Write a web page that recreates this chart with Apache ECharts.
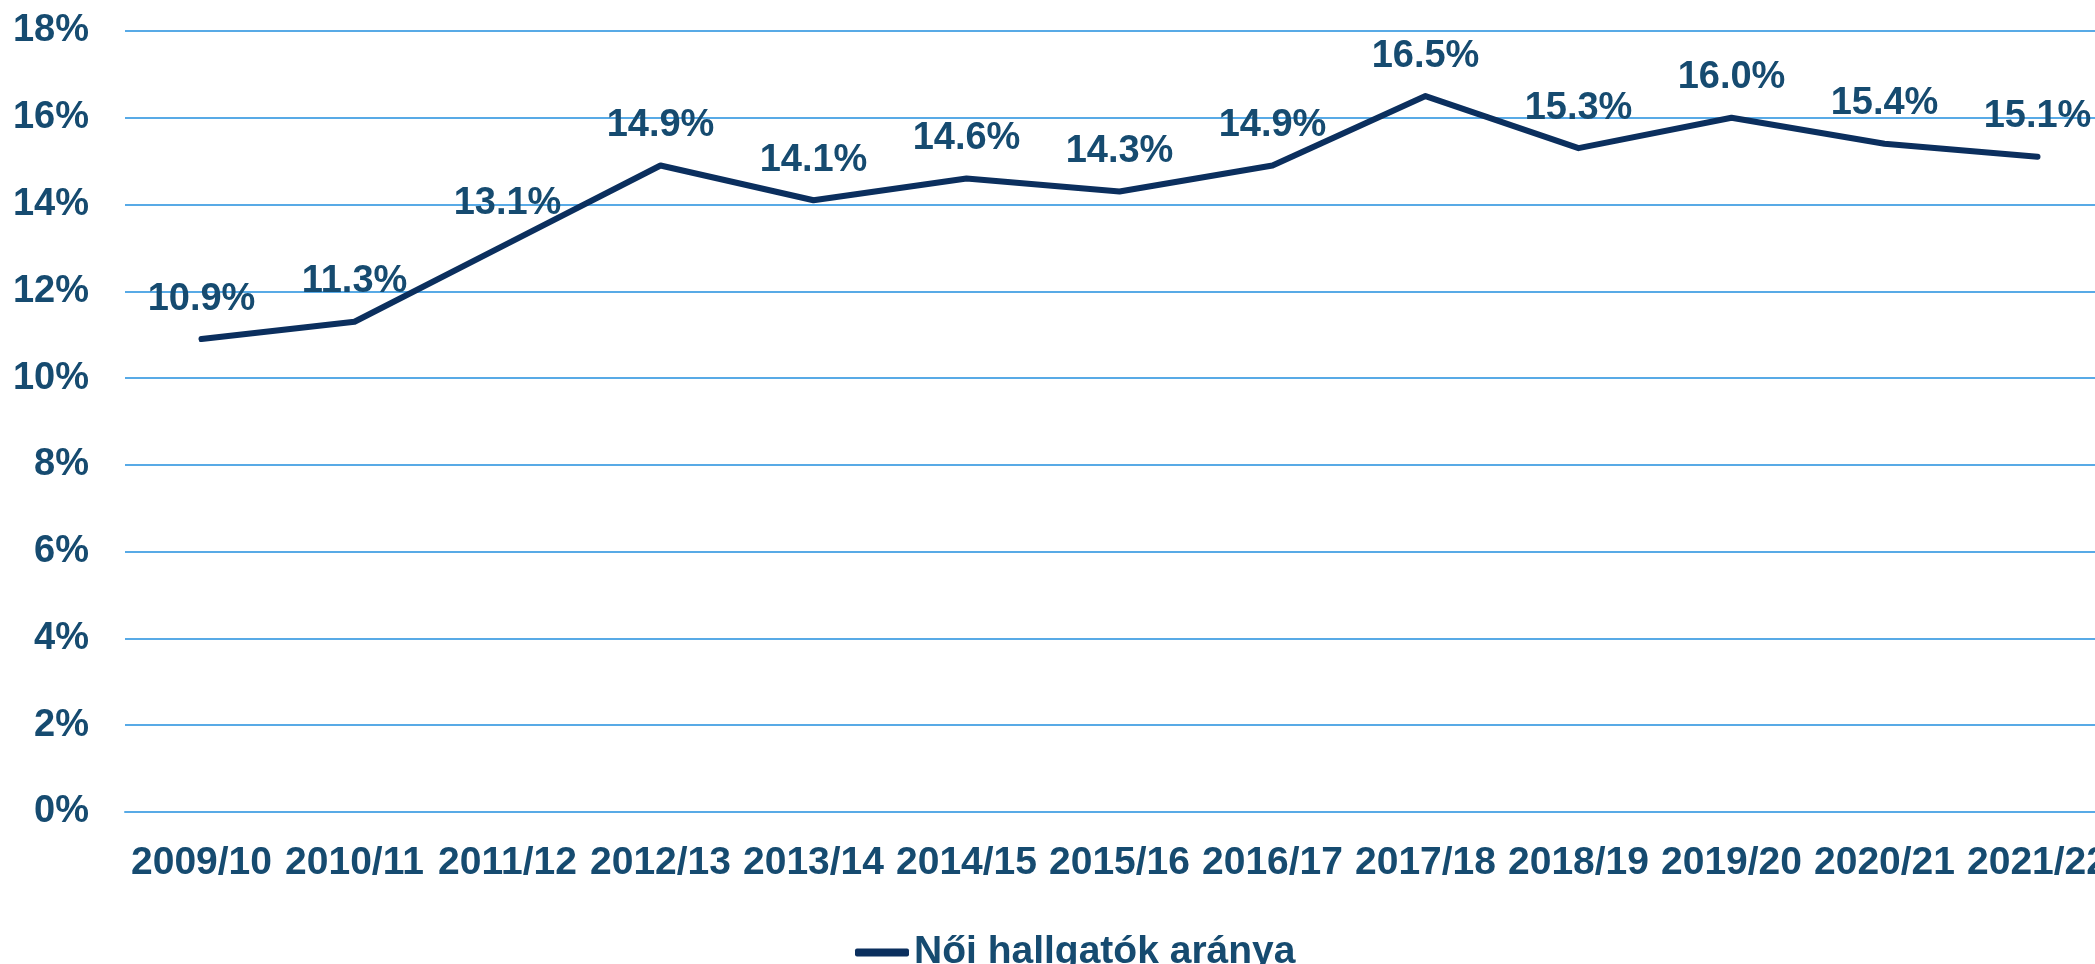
<!DOCTYPE html>
<html lang="hu">
<head>
    <meta charset="UTF-8">
    <title>Női hallgatók aránya</title>
    <script src="https://cdn.jsdelivr.net/npm/echarts@6.0.0/dist/echarts.min.js"></script>
    <style>
        html, body { margin: 0; padding: 0; background: #fff; }
        #main { width: 2095px; height: 964px; }
    </style>
</head>
<body>
    <div id="main"></div>
    <script>
        var years = ['2009/10', '2010/11', '2011/12', '2012/13', '2013/14', '2014/15', '2015/16',
                     '2016/17', '2017/18', '2018/19', '2019/20', '2020/21', '2021/22'];
        var share = [10.9, 11.3, 13.1, 14.9, 14.1, 14.6, 14.3, 14.9, 16.5, 15.3, 16.0, 15.4, 15.1];
        var seriesName = 'Női hallgatók aránya';

        var textColor = '#164b70';
        var lineColor = '#0b2f5e';
        var gridColor = '#58aae6';
        var font = 'Liberation Sans';

        var chart = echarts.init(document.getElementById('main'));

        chart.setOption({
            animation: false,
            textStyle: { fontFamily: font },
            grid: {
                left: 125,
                top: 31,
                width: 1989,
                height: 781,
                outerBoundsMode: 'none'
            },
            legend: {
                data: [seriesName],
                left: 850,
                top: 928,
                icon: 'roundRect',
                itemWidth: 54,
                itemHeight: 8,
                textStyle: { color: textColor, fontSize: 39, fontWeight: 'bold', fontFamily: font }
            },
            xAxis: {
                type: 'category',
                data: years,
                boundaryGap: true,
                axisLine: { show: true, lineStyle: { color: gridColor, width: 2 } },
                axisTick: { show: false },
                axisLabel: {
                    interval: 0,
                    margin: 32,
                    color: textColor,
                    fontSize: 39,
                    fontWeight: 'bold',
                    fontFamily: font
                }
            },
            yAxis: {
                type: 'value',
                min: 0,
                max: 18,
                interval: 2,
                axisLine: { show: false },
                axisTick: { show: false },
                splitLine: { lineStyle: { color: gridColor, width: 2 } },
                axisLabel: {
                    margin: 36,
                    color: textColor,
                    fontSize: 38,
                    fontWeight: 'bold',
                    fontFamily: font,
                    formatter: '{value}%'
                }
            },
            series: [{
                name: seriesName,
                type: 'line',
                data: share,
                symbol: 'circle',
                symbolSize: 0,
                showSymbol: true,
                lineStyle: { color: lineColor, width: 6, cap: 'round', join: 'round' },
                itemStyle: { color: lineColor },
                label: {
                    show: true,
                    position: 'top',
                    distance: 21,
                    color: textColor,
                    fontSize: 38,
                    fontWeight: 'bold',
                    fontFamily: font,
                    formatter: function (p) { return p.value.toFixed(1) + '%'; }
                }
            }]
        });
    </script>
</body>
</html>
